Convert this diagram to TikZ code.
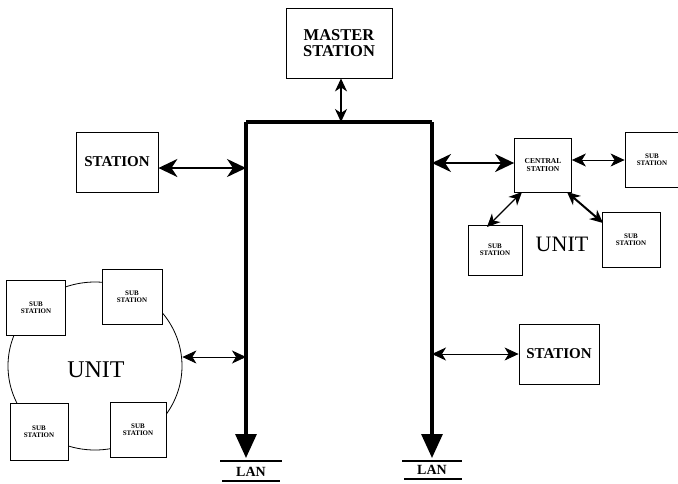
\documentclass[tikz,border=0pt]{standalone}
\usepackage{fontspec}
\setmainfont{Liberation Serif}
\usetikzlibrary{arrows.meta,shapes.geometric}
\begin{document}
\begin{tikzpicture}[x=1pt,y=-1pt,
  box/.style={draw,line width=0.8pt,inner sep=0pt,align=center},
  tiny/.style={font=\fontsize{7}{7}\bfseries\selectfont},
  thickarr/.style={line width=2.4pt,{Stealth[length=19pt,width=18pt,inset=6pt]}-{Stealth[length=19pt,width=18pt,inset=6pt]}},
  thinarr/.style={line width=0.8pt,{Stealth[length=14pt,width=13pt,inset=4pt]}-{Stealth[length=14pt,width=13pt,inset=4pt]}},
  midarr/.style={line width=1.4pt,{Stealth[length=13pt,width=12pt,inset=4pt]}-{Stealth[length=13pt,width=12pt,inset=4pt]}},
  bus/.style={line width=3.2pt},
  lanarr/.style={line width=3.2pt,-{Triangle[length=24pt,width=21pt]}}]
\useasboundingbox (0,0) rectangle (678,483);
% master station
\node[box,minimum width=106pt,minimum height=70pt,font=\fontsize{16.5}{16}\bfseries\selectfont] (ms) at (339,43) {MASTER\\STATION};
% bus
\coordinate (tl) at (246,122);
\coordinate (tr) at (432,122);
\coordinate (tm) at (341,122);
\coordinate (bl) at (246,458);
\coordinate (br) at (432,458);
\draw[bus] (tl) -- (tr);
\draw[lanarr] (tl) -- (bl);
\draw[lanarr] (tr) -- (br);
\draw[midarr] (ms.south -| tm) -- (tm);
% LAN labels
\coordinate (l1a) at (220,461); \coordinate (l1b) at (282,461);
\coordinate (l2a) at (402,461); \coordinate (l2b) at (462,461);
\coordinate (l1c) at (222,481); \coordinate (l1d) at (280,481);
\coordinate (l2c) at (404,479); \coordinate (l2d) at (462,479);
\draw[line width=1.6pt] (l1a) -- (l1b);
\draw[line width=1.6pt] (l2a) -- (l2b);
\draw[line width=1.6pt] (l1c) -- (l1d);
\draw[line width=1.6pt] (l2c) -- (l2d);
\node[font=\fontsize{14}{14}\bfseries\selectfont] (lan1) at (251,472) {LAN};
\node[font=\fontsize{14}{14}\bfseries\selectfont] (lan2) at (432,470) {LAN};
% left station
\node[box,minimum width=82pt,minimum height=60pt,font=\fontsize{15}{15}\bfseries\selectfont] (st1) at (117,162) {STATION};
\coordinate (j1) at (246,168);
\draw[thickarr] (st1.east |- j1) -- (j1);
% right station
\node[box,minimum width=80pt,minimum height=60pt,font=\fontsize{15}{15}\bfseries\selectfont] (st2) at (559,354) {STATION};
\coordinate (j2) at (432,354);
\draw[thinarr] (j2) -- (st2.west);
% central station unit
\node[box,minimum width=57pt,minimum height=54pt,font=\fontsize{7.5}{7.5}\bfseries\selectfont] (cs) at (543,165) {CENTRAL\\STATION};
\coordinate (j3) at (432,163);
\draw[thickarr] (j3) -- (cs.west |- j3);
\node[box,minimum width=54pt,minimum height=55pt,tiny] (ss1) at (652,160) {SUB\\STATION};
\node[box,minimum width=54pt,minimum height=50pt,tiny] (ss2) at (495,250) {SUB\\STATION};
\node[box,minimum width=58pt,minimum height=55pt,tiny] (ss3) at (631,240) {SUB\\STATION};
\draw[thinarr] (cs.east |- ss1.west) -- (ss1.west);
\coordinate (c1) at (522,192);
\coordinate (c2) at (487,227);
\draw[midarr] (c1) -- (c2);
\coordinate (c3) at (567,192);
\coordinate (c4) at (603,223);
\draw[midarr,line width=2pt] (c3) -- (c4);
\node[font=\fontsize{22}{22}\selectfont] (u1) at (562,244) {UNIT};
% left unit ring
\node[draw,line width=0.8pt,ellipse,minimum width=174pt,minimum height=168pt,inner sep=0pt] (ring) at (95,366) {};
\node[box,fill=white,minimum width=59pt,minimum height=55pt,tiny] (sa) at (36,308) {SUB\\STATION};
\node[box,fill=white,minimum width=60pt,minimum height=55pt,tiny] (sb) at (132,297) {SUB\\STATION};
\node[box,fill=white,minimum width=58pt,minimum height=57pt,tiny] (sc) at (39,432) {SUB\\STATION};
\node[box,fill=white,minimum width=56pt,minimum height=55pt,tiny] (sd) at (138,430) {SUB\\STATION};
\node[font=\fontsize{24}{24}\selectfont] (u2) at (96,370) {UNIT};
\coordinate (j4) at (246,357);
\draw[thinarr] (ring.east |- j4) -- (j4);
\end{tikzpicture}
\end{document}
